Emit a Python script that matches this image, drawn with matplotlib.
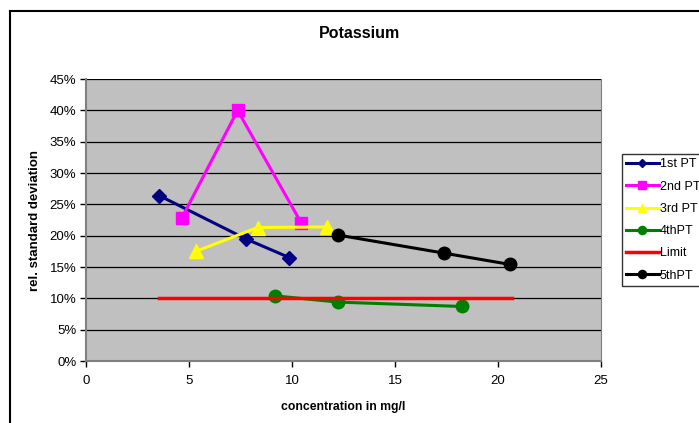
import matplotlib
matplotlib.use("Agg")
import matplotlib.pyplot as plt
from matplotlib.lines import Line2D
from matplotlib.ticker import FuncFormatter, MultipleLocator

plt.rcParams['font.family'] = ['Liberation Sans', 'DejaVu Sans']

pt1_x = [3.55, 7.75, 9.87]
pt1_y = [26.4, 19.5, 16.5]
pt2_x = [4.65, 7.36, 10.44]
pt2_y = [22.8, 40.0, 22.1]
pt3_x = [5.34, 8.33, 11.68]
pt3_y = [17.5, 21.3, 21.4]
pt4_x = [9.17, 12.23, 18.25]
pt4_y = [10.4, 9.4, 8.7]
limit_x = [3.56, 20.7]
limit_y = [10.0, 10.0]
pt5_x = [12.23, 17.4, 20.6]
pt5_y = [20.1, 17.2, 15.4]

fig = plt.figure(figsize=(6.99, 4.23), dpi=100)
W, H = 699, 423
ax = fig.add_axes([86 / W, (H - 361) / H, (601 - 86) / W, (361 - 79) / H])
ax.set_facecolor('#C0C0C0')

lw = 2.2
ax.plot(pt1_x, pt1_y, color='#000080', lw=lw, marker='D', ms=7, label='1st PT', zorder=3)
ax.plot(pt2_x, pt2_y, color='#FF00FF', lw=lw, marker='s', ms=9, label='2nd PT', zorder=3)
ax.plot(pt3_x, pt3_y, color='#FFFF00', lw=lw, marker='^', ms=9.5, label='3rd PT', zorder=3)
ax.plot(pt4_x, pt4_y, color='#008000', lw=lw, marker='o', ms=9, label='4thPT', zorder=3)
ax.plot(limit_x, limit_y, color='#FF0000', lw=2.5, label='Limit', zorder=3)
ax.plot(pt5_x, pt5_y, color='#000000', lw=lw, marker='o', ms=9, label='5thPT', zorder=3)

ax.set_xlim(0, 25)
ax.set_ylim(0, 45)
ax.xaxis.set_major_locator(MultipleLocator(5))
ax.yaxis.set_major_locator(MultipleLocator(5))
ax.yaxis.set_major_formatter(FuncFormatter(lambda v, p: f"{int(round(v))}%"))
ax.grid(axis='y', color='black', lw=0.9, zorder=1)
ax.set_axisbelow(True)
for s in ['left', 'bottom']:
    ax.spines[s].set_color('#808080')
    ax.spines[s].set_linewidth(1.5)
ax.spines['right'].set_color('#808080')
ax.spines['top'].set_visible(False)
ax.tick_params(axis='both', direction='out', length=4, width=1, color='black', labelsize=9.5, pad=3)
ax.tick_params(axis='x', pad=6)

ax.set_xlabel('concentration in mg/l', fontsize=8.8, fontweight='bold', labelpad=10)
ax.set_ylabel('rel. standard deviation', fontsize=9.5, fontweight='bold', labelpad=6)
fig.text(360 / W, 1 - 34 / H, 'Potassium', ha='center', va='center', fontsize=11.5, fontweight='bold')

leg = ax.legend(loc='upper left', bbox_to_anchor=(621.7 / W, 1 - 154 / H),
                bbox_transform=fig.transFigure, frameon=True, fancybox=False,
                edgecolor='black', fontsize=9, handlelength=2.6, handletextpad=0.1,
                labelspacing=0.82, borderpad=0.35, borderaxespad=0, markerscale=0.65)
leg.get_frame().set_linewidth(1.0)

fig.add_artist(Line2D([10 / W, 10 / W], [0, 1 - 11 / H], transform=fig.transFigure, color='black', lw=1.5))
fig.add_artist(Line2D([10 / W, 1], [1 - 11 / H, 1 - 11 / H], transform=fig.transFigure, color='black', lw=1.5))

fig.savefig('out.png', dpi=100)
